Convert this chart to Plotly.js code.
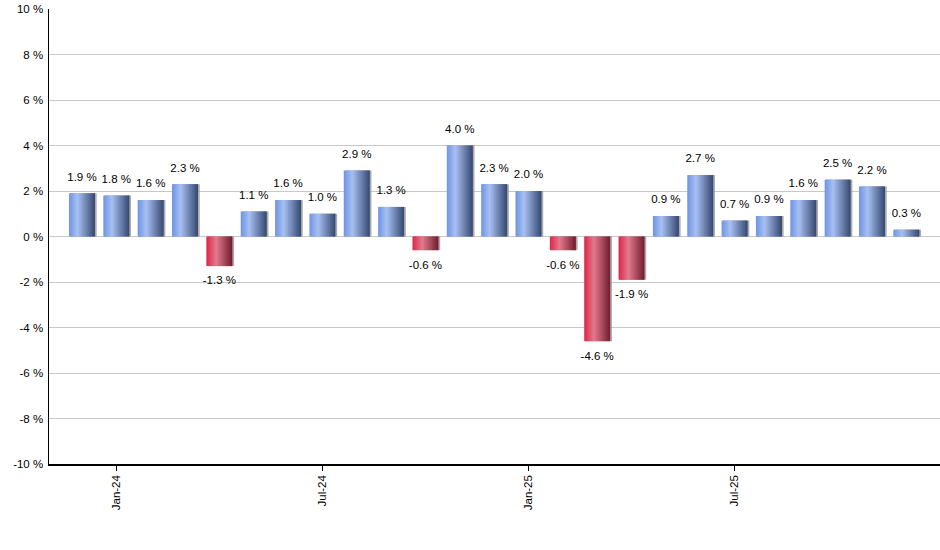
<!DOCTYPE html>
<html>
<head>
<meta charset="utf-8">
<script src="https://cdn.plot.ly/plotly-3.0.1.min.js"></script>
<style>html,body{margin:0;padding:0;background:#fff;}#chart{width:940px;height:550px;}</style>
</head>
<body>
<div id="chart"></div>
<script>
// Months Dec-23 .. Dec-25
const months = ["Dec-23","Jan-24","Feb-24","Mar-24","Apr-24","May-24","Jun-24","Jul-24","Aug-24","Sep-24","Oct-24","Nov-24","Dec-24",
  "Jan-25","Feb-25","Mar-25","Apr-25","May-25","Jun-25","Jul-25","Aug-25","Sep-25","Oct-25","Nov-25","Dec-25"];
const values = [1.9,1.8,1.6,2.3,-1.3,1.1,1.6,1.0,2.9,1.3,-0.6,4.0,2.3,2.0,-0.6,-4.6,-1.9,0.9,2.7,0.7,0.9,1.6,2.5,2.2,0.3];
const tickMonths = ["Jan-24","Jul-24","Jan-25","Jul-25"];
const yTicks = [-10,-8,-6,-4,-2,0,2,4,6,8,10];

const xIdx = months.map((m,i)=>i);
const tickVals = tickMonths.map(m=>months.indexOf(m));

// gradient stops [t, r,g,b]
const blueStops = [[0,[110,148,228]],[0.33,[168,192,242]],[1,[52,72,112]]];
const redStops  = [[0,[222,36,72]],[0.38,[226,122,142]],[1,[112,28,44]]];
function interp(stops,t){
  for(let k=0;k<stops.length-1;k++){
    const a=stops[k], b=stops[k+1];
    if(t>=a[0] && t<=b[0]){
      const f=(t-a[0])/(b[0]-a[0]);
      const c=a[1].map((v,j)=>Math.round(v+(b[1][j]-v)*f));
      return `rgb(${c[0]},${c[1]},${c[2]})`;
    }
  }
  const c=stops[stops.length-1][1];
  return `rgb(${c[0]},${c[1]},${c[2]})`;
}

const W = 0.757, N = 20, sw = W/N;
const traces = [];
// shadow
traces.push({type:'bar', x:xIdx, y:values, width:W, offset:-W/2+0.05,
  marker:{color:'rgba(150,150,150,0.8)', line:{width:0}}, hoverinfo:'skip', showlegend:false});
for(let i=0;i<N;i++){
  const t=(i+0.5)/N;
  traces.push({type:'bar', x:xIdx, y:values,
    width: (i===N-1? sw : sw*1.6), offset: -W/2 + i*sw,
    marker:{color: values.map(v=> v>=0 ? interp(blueStops,t) : interp(redStops,t)), line:{width:0}},
    hoverinfo:'skip', showlegend:false});
}
// labels
traces.push({type:'scatter', mode:'markers+text', x:xIdx, y:values,
  marker:{size:14, color:'rgba(0,0,0,0)'},
  text: values.map(v=>v.toFixed(1)+' %'),
  textposition: values.map(v=> v>=0 ? 'top center' : 'bottom center'),
  textfont:{family:'Liberation Sans, Arial, sans-serif', size:11.5, color:'#000'},
  cliponaxis:false, hoverinfo:'skip', showlegend:false});

const layout = {
  width:940, height:550,
  margin:{l:49, r:0, t:9, b:86, pad:0},
  paper_bgcolor:'#fff', plot_bgcolor:'#fff',
  barmode:'overlay', showlegend:false,
  font:{family:'Liberation Sans, Arial, sans-serif', size:11, color:'#000'},
  xaxis:{range:[-0.96,24.98], tickvals:tickVals, ticktext:tickMonths, tickangle:-90,
    ticks:'outside', ticklen:5, tickwidth:1, tickcolor:'#000',
    showline:true, linecolor:'#000', linewidth:1.5, showgrid:false, zeroline:false,
    tickfont:{size:11.5, color:'#000'}},
  yaxis:{range:[-10,10], tickvals:yTicks, ticktext:yTicks.map(v=>v+' %'),
    showline:true, linecolor:'#000', linewidth:1.5, showgrid:true, gridcolor:'#c8c8c8', gridwidth:1,
    zeroline:false, ticks:'', ticklabelstandoff:2, tickfont:{size:11.5, color:'#000'}}
};
Plotly.newPlot('chart', traces, layout, {staticPlot:true, displayModeBar:false});
</script>
</body>
</html>
